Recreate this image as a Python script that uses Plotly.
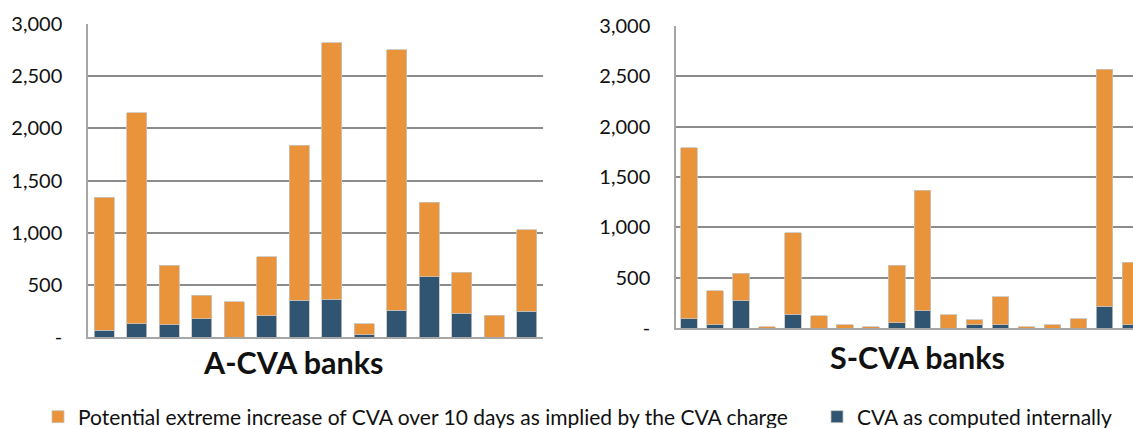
import plotly.graph_objects as go

# A-CVA banks (14 banks)
acva_banks = [f"A{i}" for i in range(1, 15)]
acva_internal = [64, 128, 118, 176, 0, 205, 352, 361, 22, 256, 579, 230, 0, 246]
acva_total = [1340, 2150, 690, 400, 340, 770, 1840, 2820, 125, 2755, 1290, 620, 210, 1030]

# S-CVA banks (18 visible, last one cut by the frame)
scva_banks = [f"S{i}" for i in range(1, 19)]
scva_internal = [93, 30, 271, 0, 139, 0, 0, 0, 50, 172, 0, 30, 30, 0, 0, 0, 218, 30]
scva_total = [1790, 370, 545, 13, 945, 122, 33, 13, 624, 1368, 132, 83, 311, 10, 33, 93, 2570, 655]

acva_extreme = [t - c for t, c in zip(acva_total, acva_internal)]
scva_extreme = [t - c for t, c in zip(scva_total, scva_internal)]

y_ticks = [0, 500, 1000, 1500, 2000, 2500, 3000]
y_tick_labels = ["-", "500", "1,000", "1,500", "2,000", "2,500", "3,000"]

name_extreme = "Potential extreme increase of CVA over 10 days as implied by the CVA charge"
name_internal = "CVA as computed internally"

ORANGE = "#E9943B"
BLUE = "#2F5573"
EDGE = "#C8C2BA"
GRID = "#8C8C8C"
FONT = "Lato"

W, H = 1133, 428

fig = go.Figure()

# left panel
fig.add_trace(go.Bar(x=acva_banks, y=acva_internal, name=name_internal, width=0.615,
                     marker=dict(color=BLUE, line=dict(color=EDGE, width=0.8)),
                     xaxis="x", yaxis="y", legend="legend2"))
fig.add_trace(go.Bar(x=acva_banks, y=acva_extreme, name=name_extreme, width=0.615,
                     marker=dict(color=ORANGE, line=dict(color=EDGE, width=0.8)),
                     xaxis="x", yaxis="y", legend="legend"))
# right panel
fig.add_trace(go.Bar(x=scva_banks, y=scva_internal, name=name_internal, width=0.64,
                     marker=dict(color=BLUE, line=dict(color=EDGE, width=0.8)),
                     xaxis="x2", yaxis="y2", showlegend=False))
fig.add_trace(go.Bar(x=scva_banks, y=scva_extreme, name=name_extreme, width=0.64,
                     marker=dict(color=ORANGE, line=dict(color=EDGE, width=0.8)),
                     xaxis="x2", yaxis="y2", showlegend=False))

yax = dict(range=[0, 3000], tickvals=y_ticks, ticktext=y_tick_labels,
           showgrid=True, gridcolor=GRID, gridwidth=1.5,
           showline=True, linecolor="#A6A6A6", linewidth=1.5,
           ticks="", ticklabelstandoff=20, zeroline=False, automargin=False,
           tickfont=dict(family=FONT, size=20, color="#111111"))
xax = dict(showticklabels=False, ticks="", showline=True, linecolor="#A6A6A6",
           linewidth=1.5, showgrid=False, zeroline=False, automargin=False)

leg = dict(orientation="h", xanchor="left", y=1 - 417 / H, yanchor="middle",
           font=dict(family=FONT, size=21, color="#111111"),
           itemwidth=30, bgcolor="rgba(0,0,0,0)")

fig.update_layout(
    width=W, height=H,
    barmode="stack",
    plot_bgcolor="white", paper_bgcolor="white",
    margin=dict(l=0, r=0, t=0, b=0, autoexpand=False),
    xaxis=dict(xax, domain=[88 / W, 543 / W], range=[-0.5, 13.5]),
    yaxis=dict(yax, domain=[1 - 337 / H, 1 - 24 / H]),
    xaxis2=dict(xax, domain=[676 / W, 1.0], range=[-0.5, 17.1], anchor="y2"),
    yaxis2=dict(yax, domain=[1 - 328 / H, 1 - 26 / H], anchor="x2"),
    showlegend=True,
    legend=dict(leg, x=38 / W),
    legend2=dict(leg, x=817 / W),
    annotations=[
        dict(text="A-CVA banks", x=293 / W, y=1 - 362 / H, xref="paper", yref="paper",
             showarrow=False, xanchor="center", yanchor="middle",
             font=dict(family=FONT, size=30.5, color="#111111", weight="bold")),
        dict(text="S-CVA banks", x=917 / W, y=1 - 357 / H, xref="paper", yref="paper",
             showarrow=False, xanchor="center", yanchor="middle",
             font=dict(family=FONT, size=30.5, color="#111111", weight="bold")),
    ],
)

# drop the browser's default 8px body margin so the figure fills the window
fig.write_html("out.html", config={"displayModeBar": False},
               post_script="document.body.style.margin='0';")
